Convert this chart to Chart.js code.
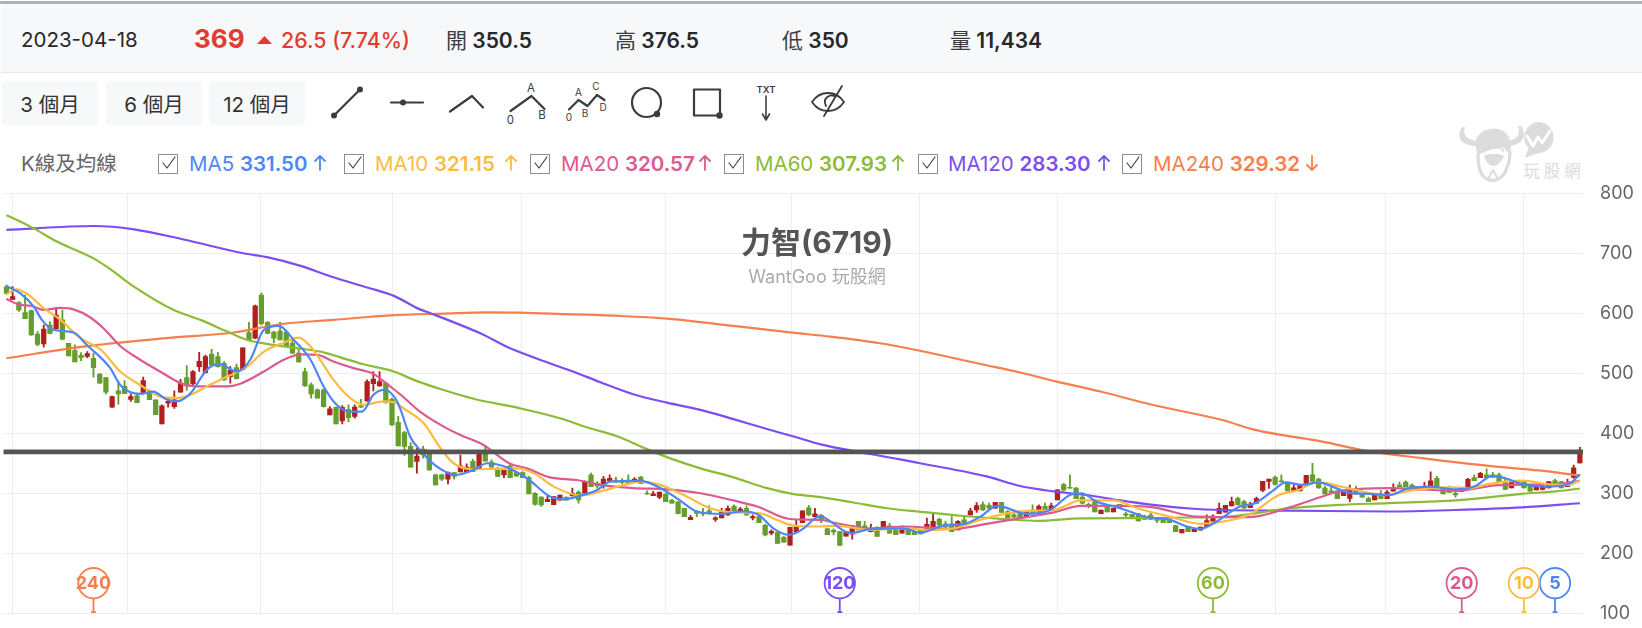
<!DOCTYPE html>
<html lang="zh-Hant">
<head>
<meta charset="utf-8">
<title>力智(6719)</title>
<script src="https://cdn.jsdelivr.net/npm/chart.js@4/dist/chart.umd.js"></script>
<style>
  html, body { margin: 0; padding: 0; background: #fff; }
  body { position: relative; width: 1642px; height: 628px; overflow: hidden;
         font-family: Inter, "Noto Sans CJK TC", sans-serif; color: #222; }
  .abs { position: absolute; white-space: nowrap; line-height: 1; }
  #topRule { position: absolute; left: 0; top: 1px; width: 1642px; height: 3px; background: #adb4bc; }
  #quoteBar { position: absolute; left: 1px; top: 4px; width: 1641px; height: 68px; background: #f7f8fa; border-bottom: 1px solid #e6e8eb; }
  .up { color: #e03c31; }
  .q { font-size: 21px; font-weight: 600; color: #26282b; }
  .q span { font-weight: 400; color: #3a3c40; }
  .range { position: absolute; top: 81px; height: 44px; width: 96px; background: #f7f8fa; border-radius: 3px;
           display: flex; align-items: center; justify-content: center; font-size: 20.5px; color: #333; }
  .cb { position: absolute; top: 154px; width: 18px; height: 18px; border: 1px solid #8c8c8c; background: #fff; }
  .ma { font-size: 20.5px; top: 154px; }
  .ma b { font-weight: 600; }
  #stockTitle { left: 617px; width: 400px; top: 227px; text-align: center; font-size: 30px; font-weight: 700; color: #555; }
  #stockSub { left: 617px; width: 400px; top: 268px; text-align: center; font-size: 18px; color: #aaa; }
  #kline { position: absolute; left: 0; top: 165px; }
  svg { position: absolute; left: 0; top: 0; }
</style>
</head>
<body>
<div id="topRule"></div>
<div id="quoteBar"></div>

<div class="abs" style="left:21px;top:30px;font-size:20.5px;color:#26282b">2023-04-18</div>
<div class="abs up" style="left:194px;top:26px;font-size:26px;font-weight:700">369</div>
<div class="abs up" style="left:281px;top:30px;font-size:21.4px;font-weight:500">26.5 (7.74%)</div>
<div class="abs q" style="left:446px;top:30px"><span>開</span> 350.5</div>
<div class="abs q" style="left:615px;top:30px"><span>高</span> 376.5</div>
<div class="abs q" style="left:782px;top:30px"><span>低</span> 350</div>
<div class="abs q" style="left:950px;top:30px"><span>量</span> 11,434</div>

<div class="range" style="left:2px">3 個月</div>
<div class="range" style="left:106px">6 個月</div>
<div class="range" style="left:209px">12 個月</div>

<div class="abs" style="left:21px;top:154px;font-size:20.5px;color:#666">K線及均線</div>

<div class="cb" style="left:158px"></div>
<div class="abs ma" style="left:189px;color:#4f86f7">MA5 <b>331.50</b></div>
<div class="cb" style="left:344px"></div>
<div class="abs ma" style="left:375px;color:#fbbc3f">MA10 <b>321.15</b></div>
<div class="cb" style="left:530px"></div>
<div class="abs ma" style="left:561px;color:#db5a8f">MA20 <b>320.57</b></div>
<div class="cb" style="left:724px"></div>
<div class="abs ma" style="left:755px;color:#8cbb35">MA60 <b>307.93</b></div>
<div class="cb" style="left:918px"></div>
<div class="abs ma" style="left:948px;color:#7b4ef0">MA120 <b>283.30</b></div>
<div class="cb" style="left:1122px"></div>
<div class="abs ma" style="left:1153px;color:#f57f4d">MA240 <b>329.32</b></div>

<svg width="1642" height="190" fill="none" stroke-linecap="round" stroke-linejoin="round">
  <!-- quote change triangle -->
  <path d="M257 44 L264.5 36 L272 44 Z" fill="#e03c31"/>
  <!-- legend checks -->
  <g stroke="#444" stroke-width="1.2">
    <path d="M163 163 l4 5 l8 -11"/><path d="M349 163 l4 5 l8 -11"/><path d="M535 163 l4 5 l8 -11"/>
    <path d="M729 163 l4 5 l8 -11"/><path d="M923 163 l4 5 l8 -11"/><path d="M1127 163 l4 5 l8 -11"/>
  </g>
  <!-- legend trend arrows -->
  <g stroke-width="1.8">
    <path d="M320 170 V156 M315 161 L320 156 L325 161" stroke="#4f86f7"/>
    <path d="M511 170 V156 M506 161 L511 156 L516 161" stroke="#fbbc3f"/>
    <path d="M705 170 V156 M700 161 L705 156 L710 161" stroke="#db5a8f"/>
    <path d="M898 170 V156 M893 161 L898 156 L903 161" stroke="#8cbb35"/>
    <path d="M1104 170 V156 M1099 161 L1104 156 L1109 161" stroke="#7b4ef0"/>
    <path d="M1312 156 V170 M1307 165 L1312 170 L1317 165" stroke="#f57f4d"/>
  </g>
  <!-- drawing tools -->
  <g stroke="#3c3c3c" stroke-width="2.2">
    <path d="M334 115.5 L360 89.5"/>
    <path d="M391 102.5 H423"/>
    <path d="M450 111.5 L472 96 L483 107.5"/>
    <path d="M510.5 111 L531.5 96 L544.5 109"/>
    <path d="M569 109.5 L578.5 100 L587.5 106 L597 95 L604.5 100"/>
    <circle cx="646.5" cy="102.5" r="14.5"/>
    <rect x="694" y="89.5" width="26" height="26"/>
    <path d="M766 96 V118 M762.5 114 L766 120 L769.5 114" stroke-width="1.6"/>
    <path d="M812 102 C820 90 836 90 844 102 C836 114 820 114 812 102 Z M824 116 L842 86 M826 106 C822 98 830 94 834 96" stroke-width="1.8"/>
  </g>
  <g fill="#3c3c3c">
    <circle cx="334" cy="115.5" r="3"/><circle cx="360" cy="89.5" r="3"/>
    <circle cx="403" cy="102.5" r="3"/>
    <circle cx="657" cy="114" r="3.2"/><circle cx="719.5" cy="115.5" r="3.2"/>
  </g>
  <g fill="#3c3c3c" font-family="Inter, sans-serif" font-size="11.5" text-anchor="middle">
    <text x="531" y="92">A</text><text x="510.5" y="124">0</text><text x="542" y="119">B</text>
  </g>
  <g fill="#3c3c3c" font-family="Inter, sans-serif" font-size="10" text-anchor="middle">
    <text x="578.5" y="96">A</text><text x="596" y="90">C</text><text x="569" y="121">0</text>
    <text x="585" y="117">B</text><text x="603" y="111">D</text>
  </g>
  <text x="766" y="93" fill="#3c3c3c" font-family="Inter, sans-serif" font-size="9.5" font-weight="600" text-anchor="middle">TXT</text>
  <!-- brand mark -->
  <g fill="#dcdcdc">
    <path d="M1462 127 C1456 136 1460 146 1477 146 L1478 141 C1468 140 1462 136 1465 127 Z"/>
    <path d="M1521 126 C1528 136 1522 146 1507 146 L1506 141 C1516 140 1521 136 1518 126 Z"/>
    <path d="M1476 139 C1484 125 1505 125 1510 140 C1512 146 1511 150 1509 153 C1500 145 1488 150 1478 155 C1476 150 1475 144 1476 139 Z"/>
    <path d="M1484 156 C1490 153 1498 153 1504 156 C1500 164 1496 166 1493 166 C1490 166 1486 162 1484 156 Z"/>
    <path d="M1538 122 A15.5 15.5 0 0 1 1538 153 L1525 158 L1528.5 148 A15.5 15.5 0 0 1 1538 122 Z"/>
  </g>
  <path d="M1478 154 C1478 166 1480 176 1487 179 C1495 183 1503 178 1506 170 C1509 164 1510 158 1510 152" stroke="#dcdcdc" stroke-width="3.2"/>
  <path d="M1488 179 L1493 170 L1498 179" stroke="#dcdcdc" stroke-width="2"/>
  <circle cx="1503" cy="150" r="2.2" fill="#dcdcdc" stroke="#fff"/>
  <path d="M1527 136 L1533 146 L1538 137 L1542 143 L1550 131" stroke="#fff" stroke-width="3"/>
  <text x="1554" y="177" fill="#dcdcdc" font-family="'Noto Sans CJK TC'" font-size="16.5" letter-spacing="4" text-anchor="middle">玩股網</text>
</svg>

<canvas id="kline" width="1642" height="476"></canvas>
<div class="abs" id="stockTitle">力智(6719)</div>
<div class="abs" id="stockSub">WantGoo 玩股網</div>

<script>
// Daily prices, oldest to newest
const opens = [644,623,618,601,604.5,565.5,549,580.5,574,589,550,538,530,528,525,498.5,493,443.5,470.5,478,456.5,462.5,466.5,469,455.5,415.5,450,444.5,468.5,493,482.5,511,501,532,528,516.5,494.5,509.5,506.5,568,558.5,630.5,585,568.5,570.5,568.5,550,533.5,503,480.5,472.5,472.5,430.5,443,420.5,440,428,445.5,454,482.5,479,483.5,456.5,418,401,378,353,373.5,365.5,330.5,330.5,323.5,334.5,335.5,336,353,340,365.5,352,341.5,330.5,345.5,334.5,334.5,326.5,300,293.5,286,281,288.5,293.5,295.5,302,300,330.5,316.5,314,321,322,321,322,321,327,300,296,293.5,298.5,288,285.5,275,256,269.5,268,270.5,256.5,259,264,278,270,275,259,261,246.5,233.5,235,226.5,213.5,235.5,251,275.5,261,263,240.5,238,236,228.5,232,253,245.5,236,239,240.5,245.5,238.5,233.5,240,236,239,239,243,256.5,249,249,239,255.5,264,272,281,280,275,285,269.5,264,266.5,261,272,269.5,278,272,289,314.5,310,308.5,293.5,281.5,286,266,278,269,281.5,265.5,265,265.5,261,263.5,258,258.5,256.5,246,234,244.5,236,238.5,244.5,253.5,266,268.5,279,291.5,286,276,283.5,304.5,319.5,326.5,320.5,316.5,304,304,316.5,330.5,323.5,308.5,304,304,296,291.5,306.5,300,291,289,298.5,291,303.5,313.5,318.5,313.5,305.5,306.5,308.5,325,310,308.5,300,303,311,326,326,330.5,330.5,330.5,319.5,309,319.5,319.5,312,305.5,306.5,309,321,319.5,311,326.5,350.5];
const highs = [647,644.5,619.5,630.5,605.5,569.5,580.5,586,610,605.5,550,547.5,534.5,536,533.5,499.5,493,462,487.5,488,465.5,465.5,493.5,472.5,455.5,447.5,458.5,470.5,490,513,504.5,535,530.5,540,535,519.5,511,515.5,542.5,585,613.5,633.5,586,570.5,585,569.5,555.5,541.5,508.5,483.5,474,474,444.5,443.5,446,447.5,447.5,456.5,489,503,503,484.5,458.5,428,403,384.5,375,378,368,332,332,335.5,334.5,363.5,349,356.5,365.5,379,355.5,343.5,338,349,336,336,328,301,294.5,295.5,294.5,297,293.5,308.5,304,320.5,333.5,319.5,328,330.5,326.5,324.5,330.5,326,328,304,303,302,300,290,286,275,263,271,275,279.5,261,275,279,280.5,276.5,279,264,263.5,248,239,235,228,243,255.5,270.5,280,275,265,241.5,240.5,236,236,245.5,253,253,248.5,244.5,253,250,241.5,245.5,243.5,236,239,258.5,265.5,258.5,253.5,261,254.5,261,275,284.5,285.5,283.5,285,285,271,271,268,271,280.5,280.5,283.5,283.5,305.5,316.5,330.5,310,295.5,283.5,286,272,278,275,281.5,268.5,265,266.5,263.5,266.5,259.5,260,256.5,247,240,244.5,241,243.5,264,264,283.5,280,293.5,293.5,288,285,293.5,320,323.5,329,330.5,316.5,314,314,330,350,325,312,310,304,304,313.5,312,300,293.5,296.5,304.5,304.5,315.5,318.5,320.5,315.5,310,318,335.5,328,310,312,303,309,325,330.5,335,340.5,335,333.5,323.5,319.5,319.5,319.5,312,312,313.5,319.5,323.5,319.5,323.5,347,376.5];
const lows = [632,623,603,591,563,545.5,543.5,565.5,574,555.5,529,519,521,526,493.5,483,465.5,443,448.5,466,453,451,465.5,456,431,415.5,443.5,441.5,468.5,472,478,503,500,513,510,488,483.5,490.5,505.5,554.5,557.5,580.5,565.5,551,555.5,544.5,532.5,518.5,478,458.5,458.5,443.5,430.5,415.5,415.5,419.5,425,443,453,470.5,478,450,413,379,363,343.5,333.5,358.5,338,313.5,321,315.5,323.5,335.5,336,336,340,353.5,343.5,328,326,326,328.5,326,299,280,278,286,281,288.5,288.5,295.5,283.5,300,311,308.5,308.5,321,318,315.5,315.5,319.5,316.5,298,296,291,286,283.5,265.5,261,256,261,262,265,253,259,263,269,269,263,255.5,251,229,230.5,216.5,218.5,213.5,235.5,251,262,261,251,231,230.5,213,228.5,223.5,239,240,235.5,228,240.5,233.5,231,233.5,231,231,232,239,243,246,240.5,236,239,247,264,268,271,272,275,268,258.5,260,258.5,261,265.5,269.5,271,272,289,304,308,291,282,275.5,269,266,269,269,275,260,261,253.5,256.5,256.5,251,251,251,236,234,236,236,238.5,244.5,253.5,266,268.5,279,280.5,275,276,283.5,302.5,308,313.5,319,304,304,304,316.5,319.5,308,299,301,291,296,286,298.5,293.5,286,289,291,291,303.5,311,311,309.5,305.5,306.5,308.5,311,299,301.5,293.5,303,311,321,326,326,326.5,318,306.5,309,315.5,309,303.5,305.5,305.5,309,311,309,311,325,350];
const closes = [633,628,605.5,591,564,548,573.5,566.5,597,557,529,519,526,533,509.5,483.5,468.5,461,465.5,466,461,451,488,456,431,445.5,453,455.5,483.5,479,503,520,528,514,511,489,505.5,491,542.5,555.5,612.5,582.5,566.5,558.5,555.5,546,533.5,519,479,465.5,458.5,444.5,440.5,415.5,443,426,443.5,443.5,486,490.5,486,451.5,414,379,378,343.5,362,364,339,314,323.5,334.5,328,345.5,343.5,336,365.5,353.5,343.5,328,338,326,328.5,326,299,281.5,280.5,290,294.5,297,288.5,300,289,319.5,311,312,323.5,325,319,318,315.5,323.5,316.5,299,299,302,286,283.5,266,261,260,266.5,265.5,266.5,259,269.5,275,269,273.5,264,261,251,230.5,236.5,216.5,218.5,243,246,270.5,264,265.5,255,231,235.5,213,236,245.5,239,241.5,241.5,228,253,233.5,231,240.5,231,231,232,248,253,247,244.5,236,253,247,270.5,279.5,272,275,285,268,258.5,260,258.5,269.5,265.5,278,271,279,305.5,305.5,308.5,291,283.5,279,269,272,269,275,275,263.5,261,254,256.5,256.5,254.5,251,251,236,240,236,241,243.5,254.5,262,275,280,286,280.5,275,282,291,320,323.5,314.5,319,304,309,314,330,319.5,309,299,301.5,291,304,306.5,298.5,293.5,286,296.5,291,302,310,311,311,309.5,310,311,320.5,311,299,301.5,297,309,323,321,333,326,326.5,318,306.5,319.5,315.5,309,303.5,312,310,319.5,311,309,316.5,342.5,369];

// Month boundaries, placed as fractional positions on the day axis
const monthLines = [0.9,19.55,40.9,62,82.9,106,126.3,146.8,169,204,221.7,244];
const priceTicks = [100,200,300,400,500,600,700,800];
const lastClose = 369;
const firstDay = -0.5;
const lastDay = 253.5;

// Moving averages as [day, price] readings
const ma5 = [[0,645.5],[2.2,633.5],[4.4,611],[5.7,589],[7.5,572.5],[10.8,568],[12.9,547.5],[16.7,508.5],[18.3,480.5],[21.5,465.5],[23.6,469.5],[25.7,456.5],[27.4,453],[29.6,466.5],[32.2,505.5],[34.1,515.5],[37.1,503],[39.2,522.5],[41.4,572.5],[43.8,579],[46.2,555.5],[48.9,522.5],[51,478],[53.1,447.5],[55.3,436],[57.2,436],[59,464],[60.9,472.5],[62.5,458.5],[63.3,441.5],[64.9,394.5],[66.5,372],[68.9,347],[72.2,330.5],[75.1,339],[77.3,350],[79.9,345.5],[83.7,325],[87.4,294.5],[89.6,290],[92.3,296],[95,305.5],[97.1,319.5],[101.9,320.5],[105.7,305.5],[108.3,288],[111,269.5],[114.8,265.5],[118.5,269.5],[120.9,264],[123.3,241.5],[125.8,230.5],[128.2,241.5],[129.8,256.5],[130.9,262],[132.5,253],[135.7,233.5],[138.9,240],[144.2,241.5],[147,234.5],[150.7,246],[153.9,248.5],[156.6,261],[159.3,279],[164.1,265.5],[167.8,272],[171,297],[172.9,300],[175.3,286],[179.1,275],[183.4,260],[187.1,255.5],[189.8,244.5],[191.9,240.5],[194.6,253],[198.3,278],[200.8,283.5],[203.5,303],[205.7,318],[208.3,314],[211,318],[213.2,311],[215.8,301],[219.1,299],[222.3,297],[225.5,308.5],[228.7,311],[233,306.5],[236.2,312],[238.9,329],[241,325],[243.7,315.5],[247.5,311],[251.2,315.5],[253,331.5]];
const ma10 = [[0,631.5],[1.6,640],[3.3,632.5],[6,608.5],[8.7,589],[11.9,558.5],[15.1,540],[18.3,503],[21.5,480.5],[24.7,461],[27.4,458.5],[29.6,464],[32.2,478],[35.5,494.5],[38.7,511],[41.4,536],[44.6,551],[47,559.5],[48.9,544.5],[52.6,489],[55.3,458.5],[57.4,447.5],[60.7,453],[62.8,450],[63.3,445.5],[67.1,416.5],[69.8,375],[71.9,350],[75.1,340],[78.3,340.5],[82.1,341.5],[84.8,333.5],[88,311],[92.3,296],[95.5,303],[98.7,312],[101.9,319.5],[105.1,314],[108.9,297],[113.2,275],[116.9,268],[121.2,266.5],[123.9,255.5],[126.6,246],[130.9,244.5],[133.5,245.5],[138.9,239],[144.2,241.5],[148,239],[152.3,241.5],[156.6,255.5],[160.9,266.5],[165.2,271],[168.4,272],[172.7,288],[178,288],[181.8,275],[187.1,261],[191.9,249],[195.2,252],[199.8,264],[204.6,297],[207.8,305.5],[210.8,318.5],[215.3,309.5],[221.7,297],[225.5,304],[231.9,310],[235.1,308.5],[238.4,315.5],[243.7,321],[249.1,314],[251.2,314],[253,321.2]];
const ma20 = [[0,624],[2.2,614],[3.9,612.5],[6,605.5],[8.7,609],[10.8,606.5],[13.5,593],[15.6,575],[18.3,545.5],[21.5,522.5],[24.7,503],[28.5,481.5],[31.7,478],[35.5,478],[37.6,482.5],[41.4,503],[44.6,522.5],[47.3,531.5],[50,530.5],[52.6,519.5],[55.8,508.5],[59,499],[61.7,478],[63.3,465],[66.5,436],[70.3,411],[73,397],[76.7,380.5],[81,349],[83.7,341.5],[87.4,326.5],[91.7,322],[95.5,314],[100.8,308.5],[106.2,306.5],[111.6,300],[116.9,288],[120.7,278],[126,257],[130.9,255.5],[133.5,250],[138.9,241.5],[144.2,244.5],[152.3,240.5],[157.6,249],[163,258.5],[168.4,268],[172.7,279],[179.1,279],[184.4,276.5],[191.4,261],[198.4,260],[200.8,261],[206.2,276],[211.6,294.5],[214.2,303],[222.3,308.5],[233,304],[240,313.5],[249.1,315],[253,320.6]];
const ma60 = [[0,763.5],[2.2,753],[4.4,741.5],[8.1,719.5],[14,691.5],[16.7,673.5],[20.5,644.5],[26.9,605.5],[31.2,589],[35.5,569.5],[38.7,555.5],[41.9,549],[47.3,541],[50.5,536],[53.7,526.5],[57.4,515],[62.3,503],[65.5,489],[70.3,472],[75.1,457.5],[82.6,441.5],[89,425],[93.3,410],[98.2,395],[103,373.5],[107.3,356],[111.6,341.5],[116.9,326.5],[122.3,308.5],[126.6,298.5],[130.9,293.5],[136.2,284.5],[141.6,275],[147,269],[153.9,262],[160.9,256.5],[165.7,254],[172.7,258],[181.8,258.5],[189.8,259.5],[195.5,260.5],[200.8,266.5],[206.2,275],[214.2,280.5],[222.3,283.5],[233,288],[243.7,299],[249.1,303],[253,307.9]];
const ma120 = [[0,739],[14,745.5],[20.5,740],[28.5,723],[38.1,700],[41.9,693.5],[47.3,679],[52.6,660],[58,643],[62.3,629],[66.5,606.5],[68.2,600],[76.2,566.5],[81,541.5],[86.9,518.5],[91.2,502.5],[95.5,485],[100.8,465],[106.2,451],[111.6,439],[116.9,423.5],[122.3,407],[126.6,394.5],[130.9,381.5],[134.6,373.5],[143.7,356.5],[146.9,350],[157.6,328],[163,312],[168.4,303],[173.7,297],[179.1,288],[184.4,280.5],[189.8,275],[195.5,272],[206.2,271],[222.3,269.5],[233,272],[243.7,276.5],[253,283.3]];
const ma240 = [[0,525],[12.4,544.5],[25.8,558.5],[36.5,568],[44.6,582.5],[52.6,589],[61.7,596.5],[70.3,599.5],[77.3,601.5],[82.6,601],[90,598.5],[98.7,595.5],[106.2,591],[116.9,579],[126,568],[132.5,561],[140.5,550],[146.9,537.5],[156.6,515.5],[163.5,500],[168.9,486],[175.9,469.5],[184.4,447],[195.5,422],[200.8,405.5],[211.6,386],[218.5,371],[227.6,358.5],[238.4,345.5],[246.4,338],[253,329.3]];

// Period of each average, with the colour used for its line and pin
const maPeriods = [5,10,20,60,120,240];
const maColors = ['#4f86f7','#fbbc3f','#db5a8f','#8cbb35','#7b4ef0','#f57f4d'];
const maSeries = [ma5,ma10,ma20,ma60,ma120,ma240];

const upColor = '#b0211d';
const downColor = '#669e2b';
const days = closes.map((_, i) => i);
const candleColors = days.map(i => closes[i] >= opens[i] ? upColor : downColor);

// Price at which the period pins sit along the bottom of the plot
const pinLevel = 150;
const pinFoot = 100;

// Pins mark the day on which each average's window begins
const periodPins = {
  id: 'periodPins',
  afterDatasetsDraw(chart) {
    const { ctx, scales: { x, y } } = chart;
    const cy = y.getPixelForValue(pinLevel);
    const foot = y.getPixelForValue(pinFoot);
    ctx.save();
    maPeriods.forEach((period, k) => {
      const cx = x.getPixelForValue(days.length - period);
      ctx.strokeStyle = maColors[k];
      ctx.fillStyle = '#fff';
      ctx.lineWidth = 1.8;
      ctx.beginPath();
      ctx.arc(cx, cy, 15.2, 0, Math.PI * 2);
      ctx.fill();
      ctx.stroke();
      ctx.beginPath();
      ctx.moveTo(cx, cy + 15.2);
      ctx.lineTo(cx, foot - 1);
      ctx.moveTo(cx - 2.5, foot - 1);
      ctx.lineTo(cx + 2.5, foot - 1);
      ctx.stroke();
      ctx.fillStyle = maColors[k];
      ctx.font = '700 18px Inter, sans-serif';
      ctx.textAlign = 'center';
      ctx.textBaseline = 'middle';
      ctx.fillText(String(period), cx, cy + 0.5);
    });
    ctx.restore();
  }
};

const maDatasets = maSeries.map((points, k) => ({
  type: 'line',
  label: 'MA' + maPeriods[k],
  data: points.map(([d, v]) => ({ x: d, y: v })),
  borderColor: maColors[k],
  borderWidth: 2.2,
  pointRadius: 0,
  cubicInterpolationMode: 'monotone',
  order: 3 + k
}));

new Chart(document.getElementById('kline'), {
  type: 'bar',
  plugins: [periodPins],
  data: {
    datasets: [
      {
        label: 'body',
        data: days.map(i => ({ x: i, y: [opens[i], closes[i]] })),
        backgroundColor: candleColors,
        barThickness: 4.6,
        grouped: false,
        order: 20
      },
      {
        label: 'wick',
        data: days.map(i => ({ x: i, y: [lows[i], highs[i]] })),
        backgroundColor: candleColors,
        barThickness: 1.2,
        grouped: false,
        order: 21
      },
      ...maDatasets,
      {
        type: 'line',
        label: 'close',
        data: [{ x: firstDay, y: lastClose }, { x: lastDay, y: lastClose }],
        borderColor: '#555',
        borderWidth: 4.6,
        pointRadius: 0,
        order: 1
      }
    ]
  },
  options: {
    responsive: false,
    animation: false,
    events: [],
    layout: { padding: { left: 3.3, top: 28.3, right: 0, bottom: 0 } },
    plugins: { legend: { display: false }, tooltip: { enabled: false } },
    scales: {
      x: {
        type: 'linear',
        min: firstDay,
        max: lastDay,
        offset: false,
        afterBuildTicks(scale) { scale.ticks = monthLines.map(value => ({ value })); },
        ticks: { display: false, autoSkip: false },
        grid: { offset: false, color: '#eeeef0', lineWidth: 1, drawTicks: false },
        border: { display: false }
      },
      y: {
        position: 'right',
        min: priceTicks[0],
        max: priceTicks[priceTicks.length - 1],
        afterBuildTicks(scale) { scale.ticks = priceTicks.map(value => ({ value })); },
        afterFit(scale) { scale.width = 59; },
        ticks: { color: '#666', font: { size: 18, family: 'Inter, sans-serif' }, padding: 17, autoSkip: false },
        grid: { color: '#eeeef0', lineWidth: 1, drawTicks: false },
        border: { display: false }
      }
    }
  }
});
</script>
</body>
</html>
